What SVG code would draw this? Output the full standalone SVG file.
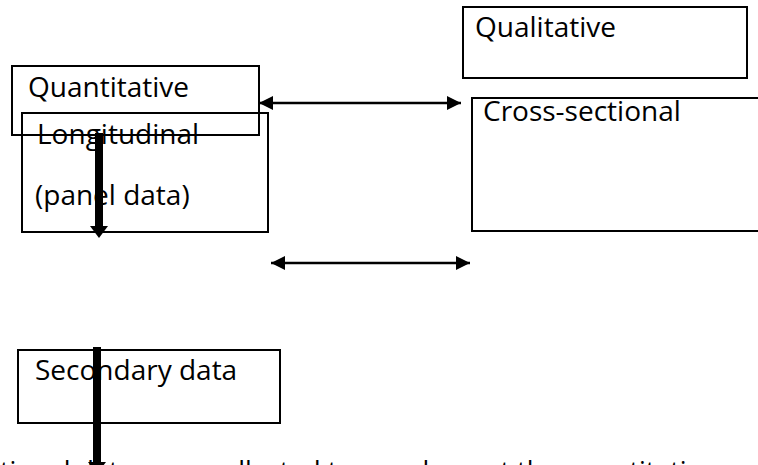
<svg xmlns="http://www.w3.org/2000/svg" width="758" height="465" viewBox="0 0 758 465">
  <style>
    .box { fill: none; stroke: #000; stroke-width: 2; }
    .lbl { font-family: "Open Sans", "Liberation Sans", sans-serif; font-size: 28px; fill: #000; }
    .thin { stroke: #000; stroke-width: 2.5; fill: none; }
    .thick { stroke: #000; stroke-width: 8; fill: none; }
  </style>
  <defs>
    <marker id="ah" markerUnits="userSpaceOnUse" markerWidth="16" markerHeight="14" refX="14" refY="7" orient="auto-start-reverse">
      <path d="M0,0 L14,7 L0,14 Z" fill="#000"/>
    </marker>
    <marker id="ahBig" markerUnits="userSpaceOnUse" markerWidth="14" markerHeight="20" refX="0" refY="9" orient="auto">
      <path d="M0,0 L12,9 L0,18 Z" fill="#000"/>
    </marker>
  </defs>

  <g id="node-qualitative">
    <rect class="box" x="463" y="7" width="284" height="71"/>
    <text class="lbl" x="475" y="37">Qualitative</text>
  </g>

  <g id="node-quantitative">
    <rect class="box" x="12" y="66" width="247" height="69"/>
    <text class="lbl" x="28" y="97">Quantitative</text>
  </g>

  <g id="node-longitudinal">
    <rect class="box" x="22" y="113" width="246" height="119"/>
    <text class="lbl" x="37" y="144">Longitudinal</text>
    <text class="lbl" x="35" y="205">(panel data)</text>
  </g>

  <g id="node-cross-sectional">
    <rect class="box" x="472" y="98" width="300" height="133"/>
    <text class="lbl" x="483" y="121">Cross-sectional</text>
  </g>

  <g id="node-secondary">
    <rect class="box" x="18" y="350" width="262" height="73"/>
    <text class="lbl" x="35" y="380">Secondary data</text>
  </g>

  <g id="connectors">
    <line class="thin" x1="259" y1="103" x2="461" y2="103" marker-start="url(#ah)" marker-end="url(#ah)"/>
    <line class="thin" x1="271" y1="263" x2="470" y2="263" marker-start="url(#ah)" marker-end="url(#ah)"/>
    <line class="thick" x1="99" y1="133" x2="99" y2="226" marker-end="url(#ahBig)"/>
    <line class="thick" x1="97" y1="347" x2="97" y2="462" marker-end="url(#ahBig)"/>
  </g>

  <text class="lbl" x="0" y="481" textLength="715" lengthAdjust="spacingAndGlyphs">tional data were collected to supplement the quantitative</text>
</svg>
